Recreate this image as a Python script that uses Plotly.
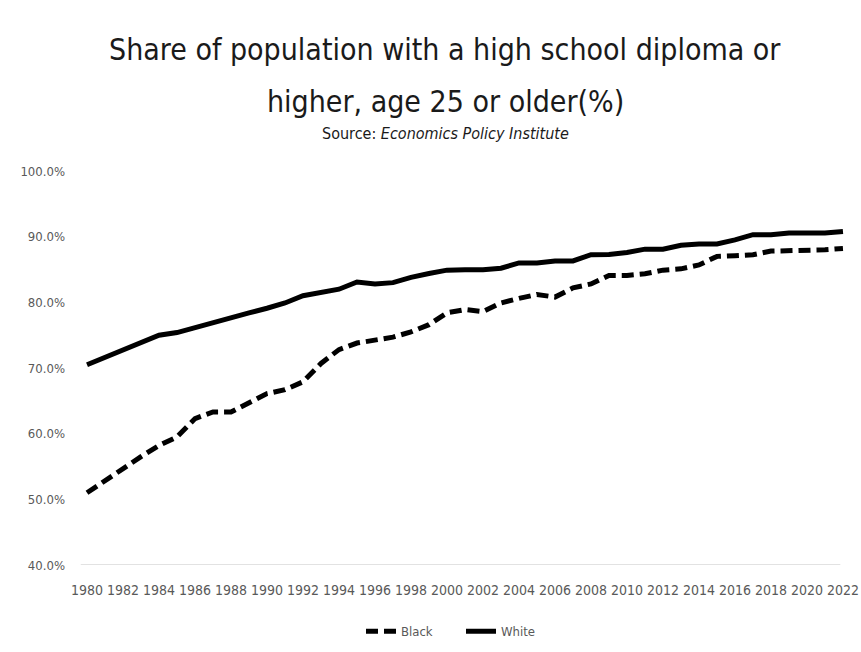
import plotly.graph_objects as go

years = list(range(1980, 2023))
black = [51.0, 52.9, 54.7, 56.5, 58.2, 59.5, 62.3, 63.3, 63.3, 64.6, 66.1, 66.7, 67.9, 70.7, 72.8,
         73.8, 74.3, 74.7, 75.5, 76.6, 78.4, 78.9, 78.6, 79.9, 80.6, 81.2, 80.8, 82.2, 82.8, 84.1,
         84.1, 84.35, 84.9, 85.1, 85.7, 87.0, 87.1, 87.25, 87.8, 87.85, 87.85, 88.0, 88.2]
white = [70.5, 71.6, 72.8, 73.7, 75.0, 75.4, 76.2, 76.9, 77.7, 78.4, 79.1, 79.9, 81.0, 81.5, 82.0,
         83.1, 82.8, 83.0, 83.8, 84.4, 84.9, 84.95, 84.95, 85.2, 86.0, 86.0, 86.3, 86.3, 87.25, 87.3,
         87.6, 88.1, 88.1, 88.7, 88.9, 88.9, 89.5, 90.3, 90.3, 90.55, 90.55, 90.55, 90.8]
x_ticks = list(range(1980, 2023, 2))
y_ticks = [40, 50, 60, 70, 80, 90, 100]
y_labels = [f"{v:.1f}%" for v in y_ticks]

FONT = "DejaVu Sans Condensed, Liberation Sans Narrow, Roboto Condensed, Roboto, sans-serif"

fig = go.Figure()
fig.add_trace(go.Scatter(x=years, y=black, name="Black", mode="lines",
                         line=dict(color="black", width=5, dash="12px,6px")))
fig.add_trace(go.Scatter(x=years, y=white, name="White", mode="lines",
                         line=dict(color="black", width=5)))

PLOT_L, PLOT_W, PLOT_TOP, PLOT_BOT = 80, 768, 171, 565
title_lines = [
    ("Share of population with a high school diploma or", 49, 30),
    ("higher, age 25 or older(%)", 101, 30),
    ("Source: <i>Economics Policy Institute</i>", 133, 16),
]
annotations = []
for text, ypx, size in title_lines:
    annotations.append(dict(text=text, xref="paper", yref="paper",
                            x=(445 - PLOT_L) / PLOT_W,
                            y=(PLOT_BOT - ypx) / (PLOT_BOT - PLOT_TOP),
                            xanchor="center", yanchor="middle", showarrow=False,
                            font=dict(family=FONT, size=size, color="#1a1a1a")))

fig.update_layout(
    width=861, height=652,
    margin=dict(l=80, r=13, t=171, b=87, autoexpand=False),
    paper_bgcolor="white", plot_bgcolor="white",
    font=dict(family=FONT, color="#595959", size=13),
    xaxis=dict(range=[1979.61, 2022.28], tickvals=x_ticks, showgrid=False, zeroline=False,
               showline=False, ticks="", ticklabelstandoff=15, automargin=False,
               tickfont=dict(family=FONT, size=14, color="#595959")),
    yaxis=dict(range=[40, 100], tickvals=y_ticks, ticktext=y_labels, automargin=False,
               showgrid=False, zeroline=False, showline=False, ticks="", ticklabelstandoff=14,
               tickfont=dict(family=FONT, size=13, color="#595959")),
    legend=dict(orientation="h", x=(461 - PLOT_L) / PLOT_W, xanchor="center", y=-0.13,
                yanchor="top", entrywidth=55, entrywidthmode="pixels",
                font=dict(family=FONT, size=13, color="#595959")),
    annotations=annotations,
    shapes=[dict(type="line", xref="paper", yref="y", x0=0.001, x1=0.99, y0=40, y1=40,
                 line=dict(color="#d9d9d9", width=1.5))],
)

fig.write_html("out.html")
